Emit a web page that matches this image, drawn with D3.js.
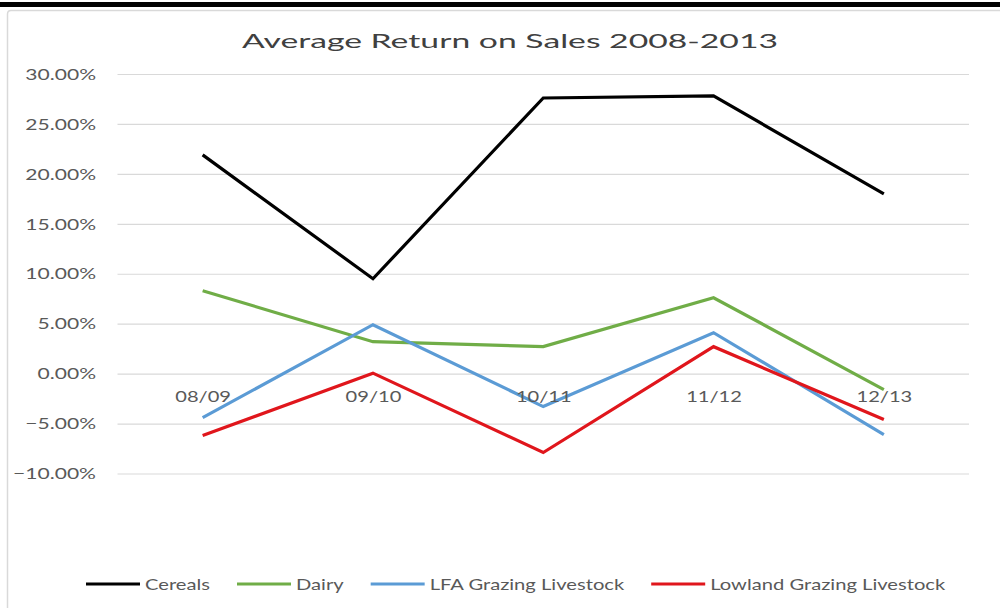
<!DOCTYPE html>
<html>
<head>
<meta charset="utf-8">
<script src="https://cdn.jsdelivr.net/npm/d3@7/dist/d3.min.js"></script>
<style>
  html, body { margin: 0; padding: 0; background: #fff; }
  svg { display: block; }
  text { font-family: Lato, "Open Sans", sans-serif; }
</style>
</head>
<body>
<svg id="chart" width="1000" height="608"></svg>
<script>
// Chart data
const categories = ["08/09", "09/10", "10/11", "11/12", "12/13"];
const seriesNames = ["Cereals", "Dairy", "LFA Grazing Livestock", "Lowland Grazing Livestock"];
const cereals = [21.9, 9.5, 27.6, 27.8, 18.0];
const dairy = [8.3, 3.2, 2.7, 7.6, -1.6];
const lfaGrazing = [-4.4, 4.9, -3.3, 4.1, -6.1];
const lowlandGrazing = [-6.2, 0.05, -7.9, 2.7, -4.6];
const yTicks = [-10, -5, 0, 5, 10, 15, 20, 25, 30];
const seriesColors = ["#000000", "#70ad47", "#5b9bd5", "#e0161c"];

const series = [cereals, dairy, lfaGrazing, lowlandGrazing].map((vals, i) => ({
  name: seriesNames[i],
  color: seriesColors[i],
  values: vals.map((v, j) => ({ cat: categories[j], v }))
}));

const svg = d3.select("#chart");

// Stretch a text element horizontally by factor k
function stretch(sel, k) {
  sel.each(function () {
    const w = this.getComputedTextLength();
    d3.select(this).attr("textLength", w * k).attr("lengthAdjust", "spacingAndGlyphs");
  });
}

// Page frame: black rule on top, light chart border
svg.append("rect").attr("x", 0).attr("y", 2).attr("width", 1000).attr("height", 5).attr("fill", "#000");
svg.append("path")
  .attr("d", "M7.5,620 L7.5,14 Q7.5,10.5 11,10.5 L1010,10.5")
  .attr("fill", "none").attr("stroke", "#d9d9d9").attr("stroke-width", 1.5);

// Scales
const x = d3.scalePoint().domain(categories).range([117.5, 969]).padding(0.5);
const y = d3.scaleLinear().domain([-10, 30]).range([473.5, 74]);

// Gridlines
const grid = d3.axisLeft(y).tickValues(yTicks).tickSize(-(969 - 117.5)).tickFormat("");
svg.append("g").attr("transform", "translate(117.5,0)").call(grid)
  .call(g => g.select(".domain").remove())
  .call(g => g.selectAll("line").attr("stroke", "#d9d9d9").attr("stroke-width", 1.2));

// Y labels
const yAxis = d3.axisLeft(y).tickValues(yTicks).tickSize(0).tickPadding(0)
  .tickFormat(d => d3.format(".2f")(d) + "%");
const yg = svg.append("g").attr("transform", "translate(96,0)").call(yAxis);
yg.select(".domain").remove();
yg.selectAll("text")
  .attr("fill", "#595959").attr("font-size", 14.5).attr("font-family", "Lato, sans-serif")
  .attr("dy", "0.36em");
{
  const ref = yg.selectAll("text").filter(d => d === 30).node();
  const k = 70.7 / ref.getComputedTextLength();
  stretch(yg.selectAll("text"), k);
}

// Lines
const line = d3.line().x(d => x(d.cat)).y(d => y(d.v));
svg.append("g").selectAll("path").data(series).join("path")
  .attr("d", d => line(d.values))
  .attr("fill", "none")
  .attr("stroke", d => d.color)
  .attr("stroke-width", 3.2)
  .attr("stroke-linejoin", "miter")
  .attr("stroke-linecap", "butt");

// X labels, drawn over the lines next to the zero line
const xAxis = d3.axisBottom(x).tickSize(0).tickPadding(0);
const xg = svg.append("g").attr("transform", "translate(0," + (y(0) + 23) + ")").call(xAxis);
xg.select(".domain").remove();
xg.selectAll("text")
  .attr("fill", "#595959").attr("font-size", 15).attr("font-family", "Lato, sans-serif")
  .attr("dy", "0.36em").attr("y", 0);
{
  const ref = xg.select("text").node();
  const k = 55.7 / ref.getComputedTextLength();
  stretch(xg.selectAll("text"), k);
}

// Title
const title = svg.append("text")
  .attr("x", 510).attr("y", 47.5).attr("text-anchor", "middle")
  .attr("font-size", 20).attr("fill", "#404040")
  .text("Average Return on Sales 2008-2013");
stretch(title, 536 / title.node().getComputedTextLength());

// Legend
const legend = svg.append("g");
let lx = 86;
const ly = 584;
let kLegend = null;
series.forEach(s => {
  legend.append("line")
    .attr("x1", lx).attr("x2", lx + 54).attr("y1", ly).attr("y2", ly)
    .attr("stroke", s.color).attr("stroke-width", 3.2);
  const t = legend.append("text")
    .attr("x", lx + 59).attr("y", ly).attr("dy", "0.36em")
    .attr("font-size", 16).attr("fill", "#595959")
    .text(s.name);
  if (kLegend === null) kLegend = 65 / t.node().getComputedTextLength();
  const w = t.node().getComputedTextLength() * kLegend;
  t.attr("textLength", w).attr("lengthAdjust", "spacingAndGlyphs");
  lx = lx + 59 + w + 27;
});
</script>
</body>
</html>
